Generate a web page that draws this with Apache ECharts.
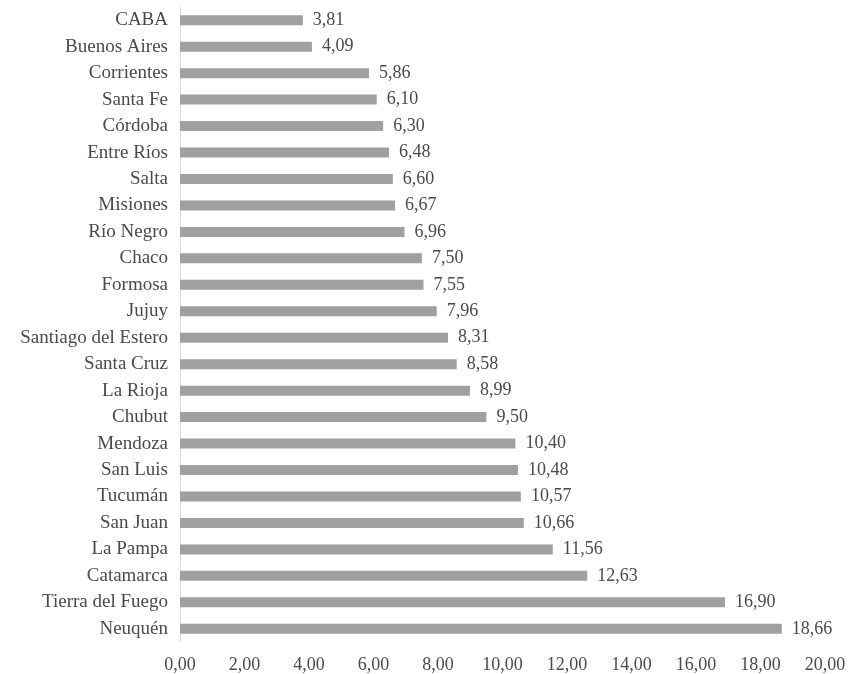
<!DOCTYPE html>
<html><head><meta charset="utf-8">
<script src="https://cdn.jsdelivr.net/npm/echarts@6/dist/echarts.min.js"></script>
<style>html,body{margin:0;padding:0;background:#fff}#c{width:850px;height:674px}</style>
</head><body><div id="c"></div>
<script>
var categories = ["CABA","Buenos Aires","Corrientes","Santa Fe","Córdoba","Entre Ríos","Salta","Misiones","Río Negro","Chaco","Formosa","Jujuy","Santiago del Estero","Santa Cruz","La Rioja","Chubut","Mendoza","San Luis","Tucumán","San Juan","La Pampa","Catamarca","Tierra del Fuego","Neuquén"];
var values = [3.81,4.09,5.86,6.10,6.30,6.48,6.60,6.67,6.96,7.50,7.55,7.96,8.31,8.58,8.99,9.50,10.40,10.48,10.57,10.66,11.56,12.63,16.90,18.66];
var fmt = function(v){ return Number(v).toFixed(2).replace('.', ','); };
var font = "'Liberation Serif', 'DejaVu Serif', serif";
var chart = echarts.init(document.getElementById('c'), null, {renderer:'canvas'});
chart.setOption({
  animation:false,
  textStyle:{fontFamily:font},
  grid:{left:180,right:25,top:7,bottom:32,containLabel:false},
  xAxis:{type:'value',min:0,max:20,interval:2,
    axisLine:{show:false},axisTick:{show:false},splitLine:{show:false},
    axisLabel:{formatter:fmt,color:'#4a4a4a',fontSize:18,fontFamily:font,margin:14}},
  yAxis:{type:'category',data:categories,inverse:true,
    axisLine:{show:true,lineStyle:{color:'#d9d9d9',width:1}},axisTick:{show:false},
    axisLabel:{color:'#4a4a4a',fontSize:19,fontFamily:font,margin:12}},
  series:[{type:'bar',data:values,barWidth:10,
    itemStyle:{color:'#a0a0a0'},
    label:{show:true,position:'right',distance:10,color:'#4a4a4a',fontSize:18,fontFamily:font,
      formatter:function(p){return fmt(p.value);}}}]
});
</script></body></html>
